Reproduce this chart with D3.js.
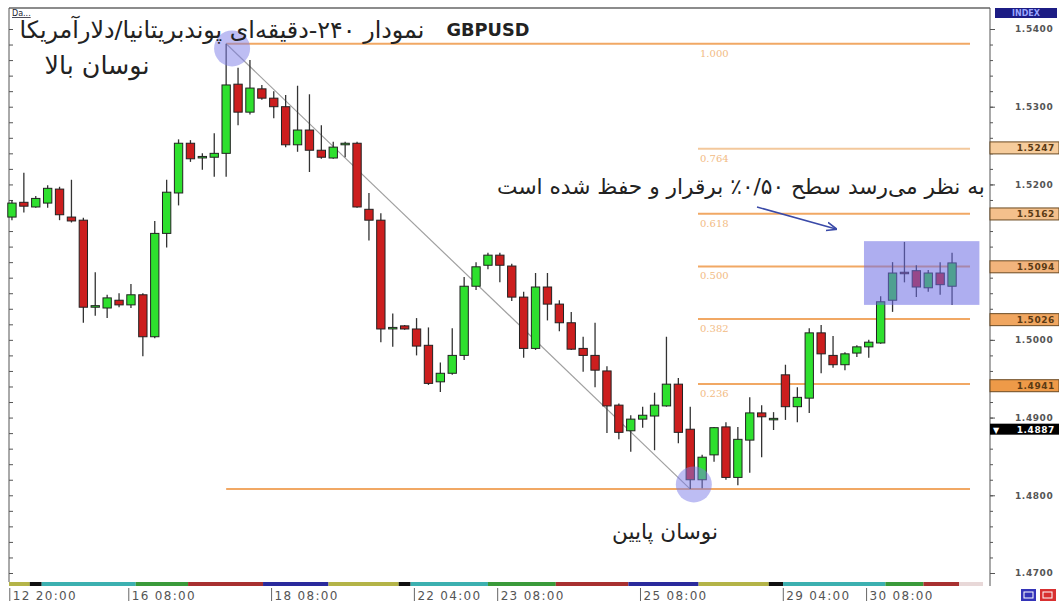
<!DOCTYPE html>
<html>
<head>
<meta charset="utf-8">
<script src="https://cdn.jsdelivr.net/npm/d3@7"></script>
<style>
body { margin: 0; background: #fff; }
svg { display: block; }
</style>
</head>
<body>
<svg id="chart"></svg>
<script>
var W = 1059, H = 608;

// 4h GBPUSD candles
var opens  = [1.5158,1.5177,1.5171,1.5176,1.5194,1.5158,1.5154,1.5042,1.5041,1.5051,
              1.5045,1.5058,1.5004,1.5137,1.5189,1.5253,1.5235,1.5235,1.5240,1.5329,
              1.5293,1.5323,1.5311,1.5300,1.5251,1.5270,1.5244,1.5234,1.5251,1.5253,
              1.5168,1.5154,1.5015,1.5018,1.5014,1.4993,1.4946,1.4957,1.4980,1.5069,
              1.5096,1.5109,1.5095,1.5055,1.4989,1.5068,1.5046,1.5022,1.4989,1.4980,
              1.4960,1.4916,1.4883,1.4898,1.4902,1.4915,1.4943,1.4885,1.4820,1.4852,
              1.4888,1.4823,1.4871,1.4906,1.4898,1.4955,1.4914,1.4925,1.5009,1.4980,
              1.4968,1.4983,1.4991,1.4996,1.5051,1.5087,1.5089,1.5067,1.5086,1.5069];
var highs  = [1.5180,1.5215,1.5185,1.5199,1.5197,1.5206,1.5157,1.5087,1.5058,1.5060,
              1.5072,1.5060,1.5153,1.5206,1.5258,1.5257,1.5240,1.5266,1.5381,1.5350,
              1.5360,1.5328,1.5320,1.5315,1.5327,1.5316,1.5276,1.5255,1.5255,1.5255,
              1.5189,1.5163,1.5034,1.5019,1.5028,1.5016,1.4971,1.5015,1.5081,1.5100,
              1.5112,1.5112,1.5098,1.5062,1.5086,1.5086,1.5051,1.5036,1.5004,1.5022,
              1.4966,1.4918,1.4903,1.4914,1.4932,1.5004,1.4951,1.4914,1.4852,1.4888,
              1.4894,1.4888,1.4926,1.4916,1.4907,1.4968,1.4939,1.5015,1.5019,1.5005,
              1.4984,1.4993,1.5000,1.5056,1.5100,1.5126,1.5096,1.5090,1.5100,1.5112];
var lows   = [1.5154,1.5164,1.5170,1.5170,1.5154,1.5151,1.5022,1.5031,1.5028,1.5042,
              1.5041,1.4979,1.5002,1.5119,1.5173,1.5229,1.5219,1.5210,1.5210,1.5276,
              1.5290,1.5309,1.5285,1.5248,1.5242,1.5216,1.5233,1.5233,1.5235,1.5170,
              1.5128,1.4997,1.4991,1.5013,1.4980,1.4942,1.4933,1.4955,1.4974,1.5064,
              1.5091,1.5074,1.5050,1.4977,1.4987,1.5025,1.5011,1.4987,1.4959,1.4939,
              1.4880,1.4872,1.4856,1.4887,1.4858,1.4914,1.4867,1.4808,1.4809,1.4843,
              1.4820,1.4813,1.4829,1.4849,1.4884,1.4897,1.4894,1.4906,1.4957,1.4964,
              1.4961,1.4978,1.4977,1.4995,1.5036,1.5074,1.5055,1.5062,1.5058,1.5045];
var closes = [1.5176,1.5172,1.5182,1.5195,1.5161,1.5153,1.5042,1.5044,1.5054,1.5045,
              1.5058,1.5004,1.5137,1.5190,1.5253,1.5233,1.5236,1.5240,1.5328,1.5293,
              1.5324,1.5311,1.5300,1.5251,1.5270,1.5244,1.5235,1.5248,1.5253,1.5171,
              1.5154,1.5014,1.5016,1.5014,1.4992,1.4944,1.4957,1.4980,1.5069,1.5094,
              1.5109,1.5096,1.5055,1.4989,1.5068,1.5046,1.5022,1.4988,1.4980,1.4961,
              1.4915,1.4881,1.4898,1.4903,1.4916,1.4943,1.4881,1.4820,1.4849,1.4887,
              1.4823,1.4872,1.4906,1.4901,1.4899,1.4914,1.4926,1.5009,1.4982,1.4968,
              1.4982,1.4991,1.4997,1.5049,1.5086,1.5086,1.5068,1.5086,1.5071,1.5099];

var timeTickIndex  = [0, 10, 22, 34, 41, 53, 65, 72];
var timeTickLabels = ["12 20:00", "16 08:00", "18 08:00", "22 04:00", "23 08:00", "25 08:00", "29 04:00", "30 08:00"];

// day colour strip under the plot (candle index where each day starts / ends)
var dayStarts = [-0.5, 1.5, 2.5, 10.4, 14.8, 21.1, 26.6, 32.5, 33.5, 40.0, 45.7, 51.8, 57.7, 63.6, 64.8, 73.4, 76.6, 79.6];
var dayEnds   = [1.5, 2.5, 10.4, 14.8, 21.1, 26.6, 32.5, 33.5, 40.0, 45.7, 51.8, 57.7, 63.6, 64.8, 73.4, 76.6, 79.6, 81.6];
var dayColors = ["#b4b448", "#111111", "#3cb0b0", "#3a9a3a", "#a83030", "#2a2a9c", "#b4b448", "#111111",
                 "#3cb0b0", "#3a9a3a", "#a83030", "#2a2a9c", "#b4b448", "#111111", "#3cb0b0", "#3a9a3a", "#a83030", "#e8d8d8"];

// 1.5100 sits under the 1.5094 level box, so it is not drawn
var priceTicks = [1.47, 1.48, 1.49, 1.50, 1.52, 1.53, 1.54];

var fibLevels = [1.000, 0.764, 0.618, 0.500, 0.382, 0.236, 0.000];
var fibLabels = ["1.000", "0.764", "0.618", "0.500", "0.382", "0.236", ""];
var fibHigh = 1.5381, fibLow = 1.4808;
var fibHighIndex = 18, fibLowIndex = 57;

var levelPrices = [1.5247, 1.5162, 1.5094, 1.5026, 1.4941];
var levelColors = ["#f6cc9c", "#f4c08c", "#f2b47c", "#f0a660", "#ee9a48"];
var lastPrice = 1.4887;

var svg = d3.select("#chart").attr("width", W).attr("height", H);
svg.append("rect").attr("width", W).attr("height", H).attr("fill", "#fff");

var n = opens.length;
var x = d3.scaleBand().domain(d3.range(n)).range([6, 958]).paddingInner(0.3).paddingOuter(0.15);
var cx = function(i) { return x(i) + x.bandwidth() / 2; };
var xi = d3.scaleLinear().domain([0, n - 1]).range([cx(0), cx(n - 1)]);
var y = d3.scaleLinear().domain([1.47, 1.54]).range([573, 29]);

var plotLeft = 9, plotRight = 990, plotTop = 8, plotBottom = 582;

// frame
svg.append("line").attr("x1", plotLeft).attr("x2", plotRight).attr("y1", plotTop).attr("y2", plotTop)
  .attr("stroke", "#666").attr("stroke-width", 1.5);
svg.append("line").attr("x1", plotLeft).attr("x2", plotLeft).attr("y1", plotTop).attr("y2", plotBottom)
  .attr("stroke", "#555").attr("stroke-width", 1);
svg.append("line").attr("x1", plotRight).attr("x2", plotRight).attr("y1", plotTop).attr("y2", plotBottom + 4)
  .attr("stroke", "#555").attr("stroke-width", 1);

// small ticks along left border
svg.append("g").attr("transform", "translate(" + plotLeft + ",0)")
  .call(d3.axisRight(y).ticks(35).tickSize(4).tickFormat(""))
  .call(function(g) { g.select(".domain").remove(); g.selectAll("line").attr("stroke", "#555"); });

// fib lines
var fibPrice = function(l) { return fibLow + (fibHigh - fibLow) * l; };
svg.append("g").selectAll("line").data(fibLevels).enter().append("line")
  .attr("x1", function(d) { return (d === 1 || d === 0) ? cx(fibHighIndex) : 698; })
  .attr("x2", 970)
  .attr("y1", function(d) { return y(fibPrice(d)); })
  .attr("y2", function(d) { return y(fibPrice(d)); })
  .attr("stroke", function(d) { return d === 0.764 ? "#f3c89c" : "#f1a864"; })
  .attr("stroke-width", 2);
svg.append("g").selectAll("text").data(fibLevels).enter().append("text")
  .attr("x", 700).attr("y", function(d) { return y(fibPrice(d)) + 13; })
  .attr("font-family", "DejaVu Serif").attr("font-size", 10).attr("fill", "#f2bb84")
  .text(function(d, i) { return fibLabels[i]; });

// trend line from swing high to swing low
svg.append("line")
  .attr("x1", cx(fibHighIndex)).attr("y1", y(fibHigh))
  .attr("x2", cx(fibLowIndex)).attr("y2", y(fibLow))
  .attr("stroke", "#a0a0a0").attr("stroke-width", 1.2);

// candles
var candles = svg.append("g").selectAll("g").data(d3.range(n)).enter().append("g");
candles.append("line")
  .attr("x1", cx).attr("x2", cx)
  .attr("y1", function(i) { return y(highs[i]); })
  .attr("y2", function(i) { return y(lows[i]); })
  .attr("stroke", "#333").attr("stroke-width", 1.3);
candles.append("rect")
  .attr("x", function(i) { return x(i); })
  .attr("width", x.bandwidth())
  .attr("y", function(i) { return y(Math.max(opens[i], closes[i])); })
  .attr("height", function(i) { return Math.max(1.5, Math.abs(y(opens[i]) - y(closes[i]))); })
  .attr("fill", function(i) { return closes[i] >= opens[i] ? "#2ee02e" : "#cc1e1e"; })
  .attr("stroke", "#222").attr("stroke-width", 1);

// highlight box and swing circles
svg.append("rect")
  .attr("x", xi(71.6)).attr("width", xi(81.3) - xi(71.6))
  .attr("y", y(1.5127)).attr("height", y(1.5045) - y(1.5127))
  .attr("fill", "#6c6ce4").attr("opacity", 0.55);
svg.append("circle").attr("cx", xi(18.5)).attr("cy", y(1.5375)).attr("r", 18)
  .attr("fill", "#7c7ce8").attr("opacity", 0.5);
svg.append("circle").attr("cx", xi(57.3)).attr("cy", y(1.4814)).attr("r", 18)
  .attr("fill", "#7c7ce8").attr("opacity", 0.5);

// day strip + time axis
svg.append("g").selectAll("rect").data(dayColors).enter().append("rect")
  .attr("x", function(d, i) { return Math.max(plotLeft, xi(dayStarts[i])); })
  .attr("width", function(d, i) { return xi(dayEnds[i]) - Math.max(plotLeft, xi(dayStarts[i])); })
  .attr("y", plotBottom).attr("height", 4)
  .attr("fill", function(d) { return d; });

var tAxis = svg.append("g");
tAxis.selectAll("line").data(timeTickIndex).enter().append("line")
  .attr("x1", function(d) { return x(d) + 2; }).attr("x2", function(d) { return x(d) + 2; })
  .attr("y1", plotBottom + 6).attr("y2", plotBottom + 19)
  .attr("stroke", "#666").attr("stroke-width", 1);
tAxis.selectAll("text").data(timeTickIndex).enter().append("text")
  .attr("x", function(d) { return x(d) + 5; }).attr("y", plotBottom + 18)
  .attr("font-family", "DejaVu Sans").attr("font-size", 12).attr("letter-spacing", 1.3)
  .attr("fill", "#555")
  .text(function(d, i) { return timeTickLabels[i]; });

// price axis
var pAxis = svg.append("g").attr("transform", "translate(" + plotRight + ",0)");
pAxis.call(d3.axisRight(y).ticks(35).tickSize(3).tickFormat(""))
  .call(function(g) { g.select(".domain").remove(); g.selectAll("line").attr("stroke", "#555"); });
var pLab = svg.append("g").attr("transform", "translate(" + plotRight + ",0)");
pLab.call(d3.axisRight(y).tickValues(priceTicks).tickSize(5).tickPadding(20).tickFormat(d3.format(".4f")))
  .call(function(g) {
    g.select(".domain").remove();
    g.selectAll("line").attr("stroke", "#555");
    g.selectAll("text").attr("font-family", "DejaVu Sans").attr("font-size", 9)
      .attr("font-weight", "bold").attr("letter-spacing", 0.6).attr("fill", "#555");
  });

// fib level price boxes
var lv = svg.append("g").selectAll("g").data(levelPrices).enter().append("g")
  .attr("transform", function(d) { return "translate(" + plotRight + "," + y(d) + ")"; });
lv.append("rect").attr("x", 0).attr("y", -6).attr("width", W - plotRight).attr("height", 12)
  .attr("fill", function(d, i) { return levelColors[i]; }).attr("stroke", "#6b4a22").attr("stroke-width", 1);
lv.append("text").attr("x", 1055 - plotRight).attr("y", 3.5).attr("text-anchor", "end")
  .attr("font-family", "DejaVu Sans").attr("font-size", 9).attr("font-weight", "bold").attr("letter-spacing", 0.6)
  .attr("fill", "#5a3a14").text(function(d) { return d3.format(".4f")(d); });

var lp = svg.append("g").attr("transform", "translate(" + plotRight + "," + y(lastPrice) + ")");
lp.append("rect").attr("x", 0).attr("y", -4).attr("width", W - plotRight).attr("height", 11).attr("fill", "#000");
lp.append("text").attr("x", 3).attr("y", 5).attr("font-size", 8).attr("fill", "#fff")
  .attr("font-family", "DejaVu Sans").text("▼");
lp.append("text").attr("x", 1055 - plotRight).attr("y", 5).attr("text-anchor", "end")
  .attr("font-family", "DejaVu Sans").attr("font-size", 9).attr("font-weight", "bold").attr("letter-spacing", 0.6)
  .attr("fill", "#fff").text(d3.format(".4f")(lastPrice));

// INDEX header
svg.append("rect").attr("x", 995).attr("y", 8).attr("width", 62).attr("height", 10).attr("fill", "#1c1c84");
svg.append("text").attr("x", 1026).attr("y", 16).attr("text-anchor", "middle")
  .attr("font-family", "DejaVu Sans").attr("font-size", 8).attr("font-weight", "bold")
  .attr("fill", "#9aa6ff").text("INDEX");

// bottom right buttons
svg.append("rect").attr("x", 1021).attr("y", 589).attr("width", 15).attr("height", 12).attr("fill", "#3434b8");
svg.append("rect").attr("x", 1024).attr("y", 592).attr("width", 9).attr("height", 6).attr("fill", "none").attr("stroke", "#fff");
svg.append("rect").attr("x", 1040).attr("y", 589).attr("width", 16).attr("height", 12).attr("fill", "#d83030");
svg.append("rect").attr("x", 1043).attr("y", 592).attr("width", 9).attr("height", 6).attr("fill", "none").attr("stroke", "#fff");

// small "Da..." tag
svg.append("text").attr("x", 12).attr("y", 16).attr("font-family", "DejaVu Sans").attr("font-size", 8)
  .attr("fill", "#223").attr("text-decoration", "underline").text("Da...");

// titles and notes
function fit(t, w) {
  var len = t.node().getComputedTextLength();
  t.attr("font-size", parseFloat(t.attr("font-size")) * w / len);
}
var title = svg.append("text").attr("x", 488).attr("y", 36).attr("text-anchor", "middle")
  .attr("font-family", "DejaVu Sans").attr("font-weight", "bold").attr("font-size", 16).attr("fill", "#222")
  .text("GBPUSD");
fit(title, 83);

var faTitle = svg.append("text").attr("x", 222).attr("y", 38).attr("text-anchor", "middle").attr("direction", "rtl")
  .attr("font-family", "DejaVu Sans").attr("font-size", 16).attr("fill", "#222")
  .text("نمودار ۲۴۰-دقیقه‌ای پوندبریتانیا/دلارآمریکا");
fit(faTitle, 405);

var hi = svg.append("text").attr("x", 97).attr("y", 74).attr("text-anchor", "middle").attr("direction", "rtl")
  .attr("font-family", "DejaVu Sans").attr("font-size", 16).attr("fill", "#222").text("نوسان بالا");
fit(hi, 105);

var lo = svg.append("text").attr("x", 665).attr("y", 539).attr("text-anchor", "middle").attr("direction", "rtl")
  .attr("font-family", "DejaVu Sans").attr("font-size", 16).attr("fill", "#222").text("نوسان پایین");
fit(lo, 106);

var note = svg.append("text").attr("x", 741).attr("y", 194).attr("text-anchor", "middle").attr("direction", "rtl")
  .attr("font-family", "DejaVu Sans").attr("font-size", 16).attr("fill", "#222")
  .text("به نظر می‌رسد سطح ۰/۵۰٪ برقرار و حفظ شده است");
fit(note, 488);

// arrow pointing at the box
svg.append("defs").append("marker").attr("id", "ah").attr("viewBox", "0 0 10 10")
  .attr("refX", 9).attr("refY", 5).attr("markerWidth", 7).attr("markerHeight", 7).attr("orient", "auto")
  .append("path").attr("d", "M0,1 L10,5 L0,9").attr("fill", "none").attr("stroke", "#3a4aa8").attr("stroke-width", 1.6);
svg.append("line").attr("x1", 757).attr("y1", 207).attr("x2", 836).attr("y2", 229)
  .attr("stroke", "#3a4aa8").attr("stroke-width", 1.5).attr("marker-end", "url(#ah)");
</script>
</body>
</html>
